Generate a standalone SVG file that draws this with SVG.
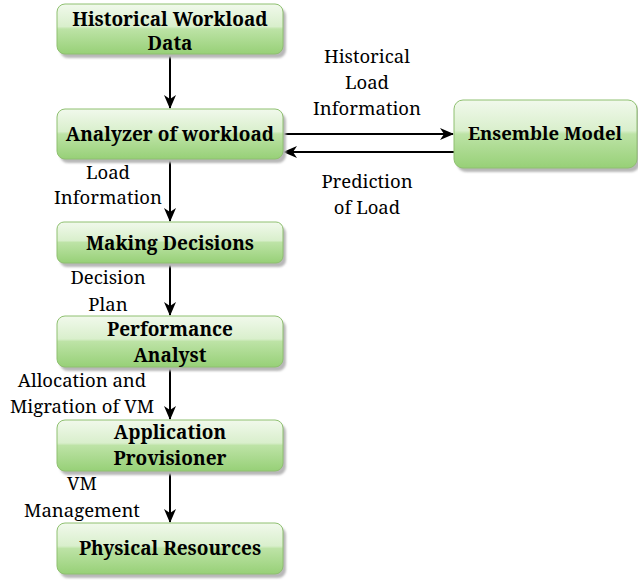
<svg xmlns="http://www.w3.org/2000/svg" width="638" height="581" viewBox="0 0 638 581">
  <style>
    .box { fill: url(#glass); stroke: #8fc070; stroke-width: 1; }
    .shadow { fill: #b8b8b8; }
    .title { font-family: 'Noto Serif', serif; font-weight: bold; font-size: 19px; fill: #000; text-anchor: middle; }
    .label { font-family: 'Noto Serif', serif; font-size: 18.5px; fill: #000; text-anchor: middle; }
    .edge { stroke: #000; stroke-width: 2; fill: none; marker-end: url(#arrow); }
  </style>
  <defs>
    <linearGradient id="glass" x1="0" y1="0" x2="0" y2="1">
      <stop offset="0" stop-color="#f1f9ec"/>
      <stop offset="0.45" stop-color="#d9efcc"/>
      <stop offset="0.5" stop-color="#bde3a6"/>
      <stop offset="1" stop-color="#97d077"/>
    </linearGradient>
    <filter id="soft" x="-10%" y="-10%" width="120%" height="130%">
      <feGaussianBlur stdDeviation="1.2"/>
    </filter>
    <marker id="arrow" viewBox="0 0 14 12" refX="13" refY="6" markerWidth="14" markerHeight="12" markerUnits="userSpaceOnUse" orient="auto">
      <path d="M0,0 L14,6 L0,12 L4,6 Z" fill="#000"/>
    </marker>
  </defs>

  <!-- connectors -->
  <g id="connectors">
    <line class="edge" x1="170" y1="54" x2="170" y2="108"/>
    <line class="edge" x1="170" y1="159" x2="170" y2="221"/>
    <line class="edge" x1="170" y1="263" x2="170" y2="315"/>
    <line class="edge" x1="170" y1="367" x2="170" y2="419"/>
    <line class="edge" x1="170" y1="471" x2="170" y2="522"/>
    <line class="edge" x1="283" y1="134" x2="453" y2="134"/>
    <line class="edge" x1="454" y1="152" x2="284" y2="152"/>
    <text class="label"><tspan x="367" y="63">Historical</tspan><tspan x="367" y="89">Load</tspan><tspan x="367" y="115">Information</tspan></text>
    <text class="label"><tspan x="367" y="188">Prediction</tspan><tspan x="367" y="214">of Load</tspan></text>
    <text class="label"><tspan x="108" y="179">Load</tspan><tspan x="108" y="204">Information</tspan></text>
    <text class="label"><tspan x="108" y="284">Decision</tspan><tspan x="108" y="311">Plan</tspan></text>
    <text class="label"><tspan x="82" y="387">Allocation and</tspan><tspan x="82" y="413">Migration of VM</tspan></text>
    <text class="label"><tspan x="82" y="490">VM</tspan><tspan x="82" y="517">Management</tspan></text>
  </g>

  <g id="historical-workload-data">
    <rect class="shadow" x="60" y="8" width="226" height="50" rx="8" filter="url(#soft)"/>
    <rect class="box" x="57" y="4" width="226" height="50" rx="8"/>
    <text class="title"><tspan x="170" y="26">Historical Workload</tspan><tspan x="170" y="50">Data</tspan></text>
  </g>

  <g id="analyzer-of-workload">
    <rect class="shadow" x="60" y="113" width="226" height="50" rx="8" filter="url(#soft)"/>
    <rect class="box" x="57" y="109" width="226" height="50" rx="8"/>
    <text class="title" x="170" y="141">Analyzer of workload</text>
  </g>

  <g id="ensemble-model">
    <rect class="shadow" x="457" y="104" width="183" height="68" rx="9" filter="url(#soft)"/>
    <rect class="box" x="454" y="100" width="183" height="68" rx="9"/>
    <text class="title" x="545" y="140" style="font-size:18.5px">Ensemble Model</text>
  </g>

  <g id="making-decisions">
    <rect class="shadow" x="60" y="226" width="226" height="41" rx="7" filter="url(#soft)"/>
    <rect class="box" x="57" y="222" width="226" height="41" rx="7"/>
    <text class="title" x="170" y="250">Making Decisions</text>
  </g>

  <g id="performance-analyst">
    <rect class="shadow" x="60" y="320" width="226" height="51" rx="8" filter="url(#soft)"/>
    <rect class="box" x="57" y="316" width="226" height="51" rx="8"/>
    <text class="title"><tspan x="170" y="336">Performance</tspan><tspan x="170" y="362">Analyst</tspan></text>
  </g>

  <g id="application-provisioner">
    <rect class="shadow" x="60" y="424" width="226" height="51" rx="8" filter="url(#soft)"/>
    <rect class="box" x="57" y="420" width="226" height="51" rx="8"/>
    <text class="title"><tspan x="170" y="439">Application</tspan><tspan x="170" y="465">Provisioner</tspan></text>
  </g>

  <g id="physical-resources">
    <rect class="shadow" x="60" y="527" width="226" height="51" rx="8" filter="url(#soft)"/>
    <rect class="box" x="57" y="523" width="226" height="51" rx="8"/>
    <text class="title" x="170" y="555">Physical Resources</text>
  </g>
</svg>
